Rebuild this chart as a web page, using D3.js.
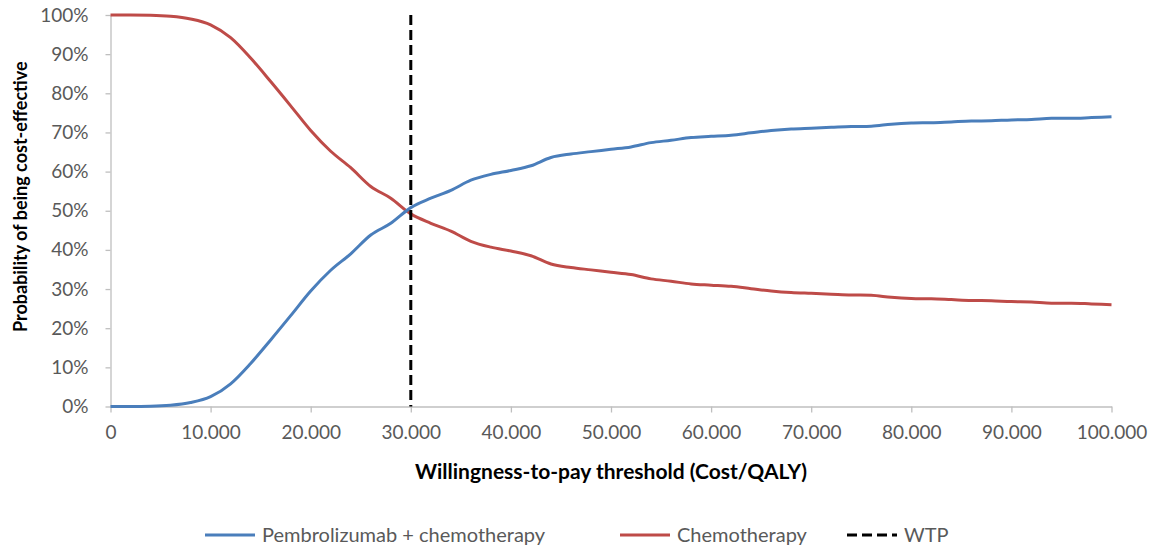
<!DOCTYPE html>
<html>
<head>
<meta charset="utf-8">
<script src="https://cdn.jsdelivr.net/npm/d3@7"></script>
<style>
  html, body { margin: 0; padding: 0; background: #fff; }
  svg { display: block; font-family: Lato, "Open Sans", sans-serif; }
</style>
</head>
<body>
<svg id="chart" width="1160" height="552"></svg>
<script>
// ---- data ----
const thresholds = [0,2000,4000,6000,8000,10000,12000,14000,16000,18000,20000,22000,24000,26000,28000,30000,32000,34000,36000,38000,40000,42000,44000,46000,48000,50000,52000,54000,56000,58000,60000,62000,64000,66000,68000,70000,72000,74000,76000,78000,80000,82000,84000,86000,88000,90000,92000,94000,96000,98000,100000];
const pembroChemo = [0,0,0.05,0.3,1.0,2.5,5.8,11.0,17.0,23.2,29.5,34.8,39.0,43.8,46.8,50.8,53.2,55.2,57.8,59.3,60.3,61.5,63.6,64.5,65.1,65.7,66.3,67.4,68.0,68.7,69.0,69.3,69.9,70.5,70.9,71.1,71.3,71.5,71.6,72.1,72.4,72.5,72.7,72.9,73.0,73.2,73.3,73.6,73.6,73.8,74.0];
const chemo = [100,100,99.95,99.7,99.0,97.5,94.2,89.0,83.0,76.8,70.5,65.2,61.0,56.2,53.2,49.2,46.8,44.8,42.2,40.7,39.7,38.5,36.4,35.5,34.9,34.3,33.7,32.6,32.0,31.3,31.0,30.7,30.1,29.5,29.1,28.9,28.7,28.5,28.4,27.9,27.6,27.5,27.3,27.1,27.0,26.8,26.7,26.4,26.4,26.2,26.0];
const wtp = 30000;
const xTicks = [0,10000,20000,30000,40000,50000,60000,70000,80000,90000,100000];
const yTicks = [0,10,20,30,40,50,60,70,80,90,100];
const seriesNames = ["Pembrolizumab + chemotherapy", "Chemotherapy", "WTP"];
const xTitle = "Willingness-to-pay threshold (Cost/QALY)";
const yTitle = "Probability of being cost-effective";

// ---- layout ----
const svg = d3.select("#chart");
const mLeft = 110.5, mRight = 1111.5, mTop = 15, mBottom = 406.5;
const x = d3.scaleLinear().domain([0, 100000]).range([mLeft, mRight]);
const y = d3.scaleLinear().domain([0, 100]).range([mBottom, mTop]);
const axisColor = "#bfbfbf";
const labelColor = "#595959";
const blue = "#4a7ebb", red = "#be4b48";

const fmtX = v => v === 0 ? "0" : d3.format(",")(v).replace(/,/g, ".");

// x axis
const gx = svg.append("g").attr("transform", `translate(0,${mBottom})`)
  .call(d3.axisBottom(x).tickValues(xTicks).tickFormat(fmtX).tickSizeInner(6).tickSizeOuter(0).tickPadding(13));
gx.select(".domain").attr("stroke", axisColor).attr("stroke-width", 1.3);
gx.selectAll(".tick line").attr("stroke", axisColor).attr("stroke-width", 1.3);
gx.selectAll(".tick text").attr("fill", labelColor).style("font-size", "19px").style("font-family", "Lato");

// y axis
const gy = svg.append("g").attr("transform", `translate(${mLeft},0)`)
  .call(d3.axisLeft(y).tickValues(yTicks).tickFormat(d => d + "%").tickSizeInner(5).tickSizeOuter(0).tickPadding(17));
gy.select(".domain").attr("stroke", axisColor).attr("stroke-width", 1.3);
gy.selectAll(".tick line").attr("stroke", axisColor).attr("stroke-width", 1.3);
gy.selectAll(".tick text").attr("fill", labelColor).style("font-size", "19px").style("font-family", "Lato");

// lines
const line = d3.line().x((d, i) => x(thresholds[i])).y(d => y(d)).curve(d3.curveMonotoneX);
svg.append("path").datum(chemo).attr("d", line).attr("fill", "none").attr("stroke", red).attr("stroke-width", 3);
svg.append("path").datum(pembroChemo).attr("d", line).attr("fill", "none").attr("stroke", blue).attr("stroke-width", 3);

// WTP line
svg.append("line").attr("x1", x(wtp)).attr("x2", x(wtp)).attr("y1", y(100)).attr("y2", y(0))
  .attr("stroke", "#000").attr("stroke-width", 3).attr("stroke-dasharray", "10,5");

// axis titles
svg.append("text").attr("x", (mLeft + mRight) / 2).attr("y", 479).attr("text-anchor", "middle")
  .style("font-size", "21px").style("font-weight", "bold").attr("fill", "#000").text(xTitle);
svg.append("text").attr("transform", `translate(27,${(mTop + mBottom) / 2 - 14}) rotate(-90)`).attr("text-anchor", "middle")
  .style("font-size", "18px").style("font-weight", "bold").attr("fill", "#000").text(yTitle);

// legend
const legendY = 535;
const legendItems = [
  { name: seriesNames[0], color: blue, dash: null, x0: 205 },
  { name: seriesNames[1], color: red, dash: null, x0: 620 },
  { name: seriesNames[2], color: "#000", dash: "10,5", x0: 847 }
];
const lg = svg.append("g");
legendItems.forEach(it => {
  lg.append("line").attr("x1", it.x0).attr("x2", it.x0 + 50).attr("y1", legendY).attr("y2", legendY)
    .attr("stroke", it.color).attr("stroke-width", 3).attr("stroke-dasharray", it.dash);
  lg.append("text").attr("x", it.x0 + 57).attr("y", legendY).attr("dy", "0.35em")
    .style("font-size", "20px").attr("fill", labelColor).text(it.name);
});
</script>
</body>
</html>
